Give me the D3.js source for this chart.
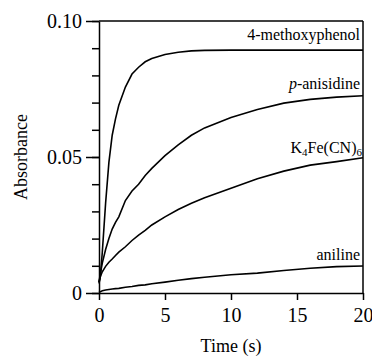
<!DOCTYPE html>
<html>
<head>
<meta charset="utf-8">
<script src="https://cdn.jsdelivr.net/npm/d3@7"></script>
<style>
  body { margin: 0; background: #fff; }
  text { font-family: "Liberation Serif", "Times New Roman", serif; fill: #000; }
</style>
</head>
<body>
<div id="chart"></div>
<script>
// Absorbance vs time kinetics traces

// Time points (s)
const times = [0, 0.1, 0.25, 0.5, 0.75, 1, 1.25, 1.5, 2, 2.5, 3, 3.5, 4, 5, 6, 7, 8, 10, 12, 14, 16, 18, 20];

// Absorbance values for each compound
const methoxyphenol = [0.004, 0.006, 0.015, 0.033, 0.048, 0.058, 0.064, 0.069, 0.0757, 0.0805, 0.083, 0.085, 0.0862, 0.0877, 0.0885, 0.089, 0.0892, 0.0893, 0.0893, 0.0893, 0.0893, 0.0893, 0.0893];
const anisidine = [0.004, 0.007, 0.011, 0.016, 0.020, 0.0235, 0.026, 0.028, 0.034, 0.0375, 0.040, 0.0432, 0.0458, 0.0505, 0.0545, 0.058, 0.0607, 0.0645, 0.0675, 0.0698, 0.0712, 0.072, 0.0725];
const ferrocyanide = [0.0035, 0.006, 0.0078, 0.0098, 0.0113, 0.0125, 0.0138, 0.015, 0.017, 0.0193, 0.0213, 0.023, 0.025, 0.028, 0.0307, 0.033, 0.035, 0.0385, 0.042, 0.0448, 0.047, 0.0483, 0.0497];
const aniline = [0.0003, 0.0005, 0.0008, 0.0011, 0.0013, 0.0015, 0.0016, 0.0017, 0.0021, 0.0024, 0.0028, 0.003, 0.0034, 0.004, 0.0047, 0.0053, 0.0058, 0.0067, 0.0073, 0.0083, 0.0091, 0.0097, 0.0099];

// Tick values
const xTicks = [0, 5, 10, 15, 20];
const yMinorTicks = [0, 0.01, 0.02, 0.03, 0.04, 0.05, 0.06, 0.07, 0.08, 0.09, 0.10];
const yMajorTicks = [0, 0.05, 0.10];
const yTickLabels = ["0", "0.05", "0.10"];

// Chart size
const W = 372, H = 356;
const margin = {top: 21, right: 9, bottom: 63, left: 99},
      width = W - margin.left - margin.right,
      height = H - margin.top - margin.bottom;

const svg = d3.select("#chart")
  .append("svg")
    .attr("width", W)
    .attr("height", H)
  .append("g")
    .attr("transform", `translate(${margin.left},${margin.top})`);

// Scales
const x = d3.scaleLinear().domain([0, 20]).range([0, width]);
const y = d3.scaleLinear().domain([0, 0.10]).range([height, 0]);

// Minor y ticks
svg.append("g")
  .call(d3.axisLeft(y).tickValues(yMinorTicks).tickSize(7).tickSizeOuter(0).tickFormat(""))
  .call(g => g.select(".domain").remove());

// Major y ticks with labels
svg.append("g")
  .attr("class", "y-axis")
  .call(d3.axisLeft(y).tickValues(yMajorTicks).tickSize(13).tickSizeOuter(0).tickPadding(4)
    .tickFormat((d, i) => yTickLabels[i]))
  .selectAll("text")
  .style("font-size", "20px");

// X axis
svg.append("g")
  .attr("class", "x-axis")
  .attr("transform", `translate(0,${height})`)
  .call(d3.axisBottom(x).tickValues(xTicks).tickSize(7).tickSizeOuter(0).tickPadding(8))
  .selectAll("text")
  .style("font-size", "20px");

svg.selectAll(".domain, .tick line").attr("stroke", "#000").attr("stroke-width", 1.5);

// Top and right frame lines
svg.append("line")
  .attr("x1", x(0)).attr("x2", x(20))
  .attr("y1", y(0.10)).attr("y2", y(0.10))
  .attr("stroke", "#000").attr("stroke-width", 1.5);
svg.append("line")
  .attr("x1", x(20)).attr("x2", x(20))
  .attr("y1", y(0)).attr("y2", y(0.10))
  .attr("stroke", "#000").attr("stroke-width", 1.5);

// Curves
const line = d3.line()
  .x((d, i) => x(times[i]))
  .y(d => y(d));

[methoxyphenol, anisidine, ferrocyanide, aniline].forEach(s => {
  svg.append("path")
    .datum(s)
    .attr("fill", "none")
    .attr("stroke", "#000")
    .attr("stroke-width", 1.6)
    .attr("d", line);
});

// Series labels
const lx = x(20) - 3;
svg.append("text").attr("x", lx).attr("y", 40 - margin.top)
  .attr("text-anchor", "end").style("font-size", "16px").text("4-methoxyphenol");

const an = svg.append("text").attr("x", lx).attr("y", 89 - margin.top)
  .attr("text-anchor", "end").style("font-size", "16px");
an.append("tspan").style("font-style", "italic").text("p");
an.append("tspan").text("-anisidine");

const fe = svg.append("text").attr("x", lx + 2).attr("y", 153 - margin.top)
  .attr("text-anchor", "end").style("font-size", "16px");
fe.append("tspan").text("K");
fe.append("tspan").attr("dy", 3).style("font-size", "11px").text("4");
fe.append("tspan").attr("dy", -3).text("Fe(CN)");
fe.append("tspan").attr("dy", 3).style("font-size", "11px").text("6");

svg.append("text").attr("x", lx).attr("y", 260 - margin.top)
  .attr("text-anchor", "end").style("font-size", "16px").text("aniline");

// Axis titles
svg.append("text")
  .attr("text-anchor", "middle")
  .attr("x", width / 2)
  .attr("y", 352 - margin.top)
  .style("font-size", "18px")
  .text("Time (s)");

svg.append("text")
  .attr("text-anchor", "middle")
  .attr("transform", `translate(${27 - margin.left},${157 - margin.top}) rotate(-90)`)
  .style("font-size", "18px")
  .text("Absorbance");
</script>
</body>
</html>
